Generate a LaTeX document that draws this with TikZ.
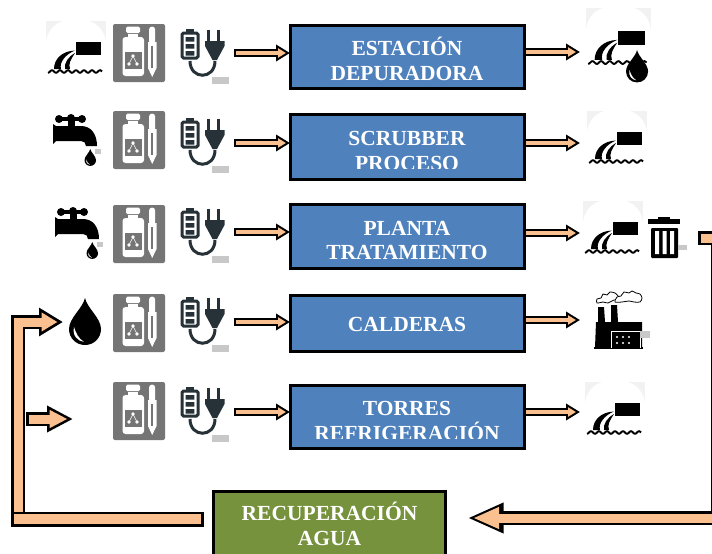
\documentclass[tikz,border=0pt]{standalone}
\usepackage{fontspec}
\setmainfont{Liberation Serif}
\usetikzlibrary{arrows.meta,calc}
\definecolor{azul}{HTML}{4F81BD}
\definecolor{verde}{HTML}{76923C}
\definecolor{naranja}{HTML}{FAC08F}
\definecolor{gris}{HTML}{757575}
\definecolor{oscuro}{HTML}{263238}
\definecolor{marca}{HTML}{C8C8C8}
\tikzset{
   caja/.style={draw=black, line width=3pt, fill=azul, text=white, font=\bfseries\fontsize{21.5}{24.5}\selectfont,
      align=center, minimum width=234pt, inner sep=0pt, outer sep=0pt, text height=46pt, text depth=0pt},
   flecha/.style={draw=black, line width=8pt, -{Triangle[length=14pt,width=16pt]},
      postaction={draw=naranja, line width=4pt, -{Triangle[length=8pt,width=9pt]}, shorten >=4pt, shorten <=2pt}},
   flechag/.style n args={4}{draw=black, line width=13.5pt, -{Triangle[length=#1,width=#2]},
      postaction={draw=naranja, line width=9pt, -{Triangle[length=#3,width=#4]}, shorten >=5.5pt, shorten <=2.5pt}},
   barra/.style={draw=black, line width=15pt, postaction={draw=naranja, line width=10pt, shorten >=2.5pt, shorten <=2.5pt}},
}
% iconos
\newcommand{\gota}[2]{
   \begin{scope}[shift={(#1)}, scale=#2]
      \fill[black] (16,0) .. controls (14,10) and (0,20) .. (0,31) .. controls (0,40) and (7,47) .. (16,47)
         .. controls (25,47) and (32,40) .. (32,31) .. controls (32,20) and (18,10) .. (16,0);
      \fill[white] (5,29) .. controls (3,38) and (9,43) .. (15,44) .. controls (9,40) and (7,35) .. (5,29);
   \end{scope}
}
\newcommand{\frasco}[1]{
   \begin{scope}[shift={(#1)}]
      \fill[gris, rounded corners=2] (0,0) rectangle (52,58);
      \fill[white, rounded corners=1.5] (13,2.7) rectangle (27,9);
      \fill[white] (15,9.5) rectangle (25,15);
      \fill[white, rounded corners=3] (9.5,13) rectangle (31,52);
      \fill[gris] (11.5,28) rectangle (29,45);
      \fill[white] (20,32) circle (1.9) (16,40) circle (1.9) (24,40) circle (1.9);
      \draw[white, line width=.6pt] (20,32) -- (16,40) (20,32) -- (24,40);
      \fill[white, rounded corners=2.5] (36.2,2.7) rectangle (42,20);
      \fill[white] (35,18) -- (43.5,18) -- (43.5,44) -- (39.2,53) -- (35,44) -- cycle;
      \draw[gris, line width=1.6pt] (39.2,22) -- (39.2,44);
   \end{scope}
}
\newcommand{\enchufe}[1]{
   \begin{scope}[shift={(#1)}]
      \draw[oscuro, line width=3pt, rounded corners=1.5] (2,5) rectangle (18,30);
      \fill[oscuro] (6,1.3) rectangle (14,4);
      \fill[oscuro] (5.7,9) rectangle (14.3,13.5) (5.7,16) rectangle (14.3,20.5) (5.7,23) rectangle (14.3,27.5);
      \fill[oscuro] (25,13) -- (44.5,13) -- (44.5,18) -- (37,32) -- (32.5,32) -- (25,18) -- cycle;
      \draw[oscuro, line width=2.6pt] (28.5,1.5) -- (28.5,14) (38.5,1.5) -- (38.5,14);
      \draw[oscuro, line width=3pt] (10,33) .. controls (10,52) and (35,52) .. (35,33);
      \fill[marca] (32,49) rectangle (49,56);
   \end{scope}
}
\newcommand{\descarga}[2]{
   \begin{scope}[shift={(#1)}, scale=#2]
      \fill[black!5] (0,0) rectangle (60,30);
      \fill[white, rounded corners=24] (0,-1) rectangle (60,63);
      \fill[black] (30,21) rectangle (55,34);
      \fill[black] (29,29.5) .. controls (16,30) and (8,38) .. (8,48) .. controls (11,48) and (13,48) .. (15,48)
         .. controls (13,41) and (20,33) .. (29,29.5);
      \fill[black] (29,32) .. controls (22,36) and (18,42) .. (19,48) -- (24,48) .. controls (22,43) and (25,38) .. (29,32);
      \draw[black, line width=1.9pt] plot[domain=2:56, samples=60] (\x,{50.5+1.3*sin(\x*45)});
   \end{scope}
}
\newcommand{\grifo}[1]{
   \begin{scope}[shift={(#1)}]
      \draw[black, line width=4.5pt] (5,6) -- (30,6);
      \fill[black] (6,6) circle (4) (18,5) circle (4) (29,6) circle (4);
      \draw[black, line width=7pt] (18,5) -- (18,15);
      \fill[black] (0,11) -- (3,13) -- (28,13) .. controls (38,13) and (44,21) .. (44,33) -- (33,33)
         .. controls (33,30) and (31,28) .. (28,28) -- (3,28) -- (0,31) -- cycle;
      \fill[marca] (42,36) rectangle (48,41);
   \end{scope}
   \gota{$(#1)+(31.5,36)$}{0.36}
}
\newcommand{\papelera}[1]{
   \begin{scope}[shift={(#1)}]
      \fill[black] (0,2) rectangle (32,7);
      \fill[black] (10,0) rectangle (22,3);
      \fill[black, rounded corners=1] (3,11) rectangle (30,41);
      \fill[white] (7,14) rectangle (11,37) (14.5,14) rectangle (18.5,37) (22,14) rectangle (26,37);
      \fill[marca] (30,28) rectangle (39,33);
   \end{scope}
}
\newcommand{\fabrica}[1]{
   \begin{scope}[shift={(#1)}]
      \fill[black] (1,58) -- (2,32) -- (4,32) -- (4,17) -- (10,17) -- (11,32) -- (17,32) -- (17,15) -- (23,15) -- (24,32)
         -- (48,32) -- (48,58) -- cycle;
      \draw[black, line width=1.2pt] (0,58) -- (49,58);
      \draw[white, line width=1pt] (17,58) -- (17,41) -- (46,41) -- (46,58);
      \fill[white] (23,47) circle (1.2) (29,47) circle (1.2) (35,47) circle (1.2) (23,53) circle (1.2) (29,53) circle (1.2) (35,53) circle (1.2);
      \draw[black, line width=.8pt, fill=white] plot[smooth cycle] coordinates {(3,13) (3,9) (7,8) (9,4) (13,5) (16,2) (21,3) (24,6) (27,11) (20,10) (14,13) (9,12)};
      \draw[black, line width=.8pt, fill=white] plot[smooth cycle] coordinates {(21,12) (23,7) (27,6) (30,2) (35,3) (38,1) (42,3) (46,4) (48,8) (46,12) (40,12) (35,11) (28,12)};
      \fill[marca] (46,41) rectangle (56,48);
   \end{scope}
}
\begin{document}
\begin{tikzpicture}[x=1pt, y=-1pt]
   \clip (0,0) rectangle (712,554);
   \fill[white] (0,0) rectangle (712,554);
   % fila 1
   \descarga{46,21}{1}
   \frasco{113,24}
   \enchufe{180,28}
   \node[caja, minimum height=63pt] (estacion) at (407,57) {ESTACIÓN\\DEPURADORA};
   \coordinate (ent1) at (234,53);
   \coordinate (sal1) at (580,52);
   \draw[flecha] (ent1) -- (ent1 -| estacion.west);
   \draw[flecha] (estacion.east |- sal1) -- (sal1);
   \descarga{586,8}{1.08}
   \gota{626,50}{0.69}
   % fila 2
   \grifo{53,113}
   \frasco{113,111}
   \enchufe{180,117}
   \node[caja, minimum height=65pt] (scrubber) at (407,147) {SCRUBBER\\PROCESO};
   \fill[azul] ($(scrubber.south west)+(1.5,-10.5)$) rectangle ($(scrubber.south east)+(-1.5,-1.5)$);
   \coordinate (ent2) at (234,143);
   \coordinate (sal2) at (580,143);
   \draw[flecha] (ent2) -- (ent2 -| scrubber.west);
   \draw[flecha] (scrubber.east |- sal2) -- (sal2);
   \descarga{587,111}{1}
   % fila 3
   \grifo{55,206}
   \frasco{113,205}
   \enchufe{180,207}
   \node[caja, minimum height=64pt] (planta) at (407,236.5) {PLANTA\\TRATAMIENTO};
   \coordinate (ent3) at (234,232);
   \coordinate (sal3) at (580,233);
   \draw[flecha] (ent3) -- (ent3 -| planta.west);
   \draw[flecha] (planta.east |- sal3) -- (sal3);
   \descarga{583,201}{1}
   \papelera{648,217}
   % fila 4
   \gota{69,298}{1}
   \frasco{113,294}
   \enchufe{180,296}
   \node[caja, minimum height=56pt, text height=15pt] (calderas) at (407,323.5) {CALDERAS};
   \coordinate (ent4) at (234,322);
   \coordinate (sal4) at (580,320);
   \draw[flecha] (ent4) -- (ent4 -| calderas.west);
   \draw[flecha] (calderas.east |- sal4) -- (sal4);
   \fabrica{594,290}
   % fila 5
   \frasco{113,382}
   \enchufe{180,386}
   \node[caja, minimum height=63pt] (torres) at (407,417) {TORRES\\REFRIGERACIÓN};
   \fill[azul] ($(torres.south west)+(1.5,-9.5)$) rectangle ($(torres.south east)+(-1.5,-1.5)$);
   \coordinate (ent5) at (234,412);
   \coordinate (sal5) at (580,412);
   \draw[flecha] (ent5) -- (ent5 -| torres.west);
   \draw[flecha] (torres.east |- sal5) -- (sal5);
   \descarga{585,382}{1}
   % recuperacion
   \node[caja, fill=verde, minimum width=232pt, minimum height=67pt, text height=40pt] (recup) at (329.5,525) {RECUPERACIÓN\\AGUA};
   \coordinate (dren) at (698,238);
   \coordinate (codo1) at (718,238);
   \coordinate (codo2) at (718,518);
   \draw[flechag={36pt}{28pt}{26pt}{20pt}] (dren) -- (codo1) -- (codo2) -- ($(recup.east)+(22,-7)$);
   \coordinate (base) at (18,519);
   \coordinate (codo3) at (18,322);
   \coordinate (gotain) at (63,322);
   \draw[flechag={24pt}{27pt}{16pt}{18pt}] (base) -- (codo3) -- (gotain);
   \coordinate (rama) at (26,419);
   \coordinate (ramafin) at (73,419);
   \draw[flechag={26pt}{25pt}{18pt}{17pt}] (rama) -- (ramafin);
   \draw[barra] ($(recup.west)+(-10,-6)$) -- (11,519);
\end{tikzpicture}
\end{document}
